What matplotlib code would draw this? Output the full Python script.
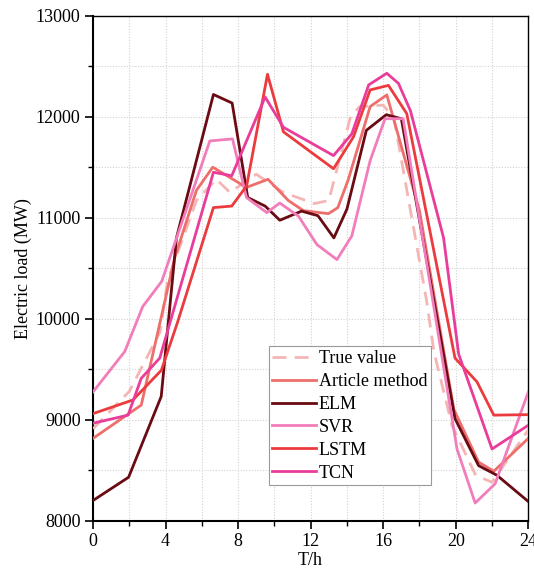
import matplotlib
matplotlib.use("Agg")
import matplotlib.pyplot as plt
from matplotlib.ticker import MultipleLocator

plt.rcParams['font.family'] = ['Liberation Serif', 'DejaVu Serif']
plt.rcParams['mathtext.fontset'] = 'stix'

# ---- data (hour, MW) ----
true_x = [0, 2.0, 3.7, 4.1, 5.7, 6.8, 7.55, 9.0, 10.5, 12.2, 13.0, 14.2, 14.7, 16.0, 16.6, 18.4, 18.8, 19.8, 21.1, 22.0, 24]
true_y = [8910, 9280, 9870, 10370, 11170, 11380, 11250, 11430, 11250, 11140, 11170, 12000, 12100, 12115, 11980, 10170, 9670, 8940, 8450, 8380, 8900]

article_x = [0, 2.66, 4.5, 5.7, 6.6, 8.46, 9.65, 10.77, 11.6, 12.98, 13.5, 14.08, 15.28, 16.2, 18.0, 19.9, 21.26, 22.1, 24]
article_y = [8815, 9145, 10600, 11270, 11500, 11300, 11380, 11170, 11070, 11040, 11100, 11380, 12100, 12216, 11070, 9100, 8580, 8490, 8815]

elm_x = [0, 1.96, 3.76, 4.6, 6.64, 7.67, 8.53, 9.49, 10.3, 11.5, 12.4, 13.28, 14.0, 15.07, 16.17, 17.0, 19.96, 21.26, 22.27, 24]
elm_y = [8200, 8430, 9230, 10800, 12220, 12135, 11200, 11115, 10975, 11065, 11020, 10800, 11085, 11865, 12020, 11980, 9010, 8545, 8450, 8190]

svr_x = [0, 1.75, 2.74, 3.79, 6.44, 7.69, 8.46, 9.58, 10.3, 11.33, 12.34, 13.45, 14.27, 15.28, 16.1, 17.1, 20.07, 21.07, 22.17, 24]
svr_y = [9275, 9675, 10120, 10370, 11760, 11780, 11200, 11050, 11145, 11015, 10735, 10585, 10820, 11565, 11980, 11980, 8710, 8175, 8365, 9275]

lstm_x = [0, 2.2, 3.77, 4.67, 6.64, 7.65, 8.47, 9.62, 10.5, 13.26, 14.36, 15.28, 16.29, 17.3, 19.96, 21.17, 22.1, 24]
lstm_y = [9060, 9195, 9490, 9970, 11100, 11115, 11315, 12420, 11850, 11485, 11800, 12265, 12310, 12030, 9610, 9375, 9045, 9050]

tcn_x = [0, 1.93, 2.66, 3.68, 6.64, 7.65, 9.49, 10.5, 13.26, 14.27, 15.2, 16.2, 16.84, 17.5, 19.33, 20.16, 22.0, 24]
tcn_y = [8965, 9045, 9410, 9610, 11450, 11415, 12195, 11895, 11615, 11830, 12315, 12430, 12330, 12060, 10800, 9650, 8710, 8945]

labels = ["True value", "Article method", "ELM", "SVR", "LSTM", "TCN"]
colors = ["#F4B5B5", "#EE6E6C", "#6A0A12", "#F27DBB", "#EC3B3E", "#EA3C9A"]

fig = plt.figure(figsize=(5.34, 5.71), dpi=100)
ax = fig.add_axes([0.1742, 0.0881, 0.8151, 0.8844])

lw = 2.0
ax.plot(true_x, true_y, color=colors[0], lw=lw, dashes=(5, 3), label=labels[0], zorder=3)
ax.plot(article_x, article_y, color=colors[1], lw=lw, label=labels[1], zorder=3)
ax.plot(elm_x, elm_y, color=colors[2], lw=lw, label=labels[2], zorder=3)
ax.plot(svr_x, svr_y, color=colors[3], lw=lw, label=labels[3], zorder=3)
ax.plot(lstm_x, lstm_y, color=colors[4], lw=lw, label=labels[4], zorder=3)
ax.plot(tcn_x, tcn_y, color=colors[5], lw=lw, label=labels[5], zorder=3)

ax.set_xlim(0, 24)
ax.set_ylim(8000, 13000)
ax.xaxis.set_major_locator(MultipleLocator(4))
ax.xaxis.set_minor_locator(MultipleLocator(2))
ax.yaxis.set_major_locator(MultipleLocator(1000))
ax.yaxis.set_minor_locator(MultipleLocator(500))

ax.grid(True, which='both', color='#D2D2D2', linestyle=(0, (1, 1.5)), linewidth=0.8, zorder=0)
ax.set_axisbelow(True)

ax.tick_params(axis='both', which='major', direction='out', length=6, width=1.2, labelsize=13, pad=3)
ax.tick_params(axis='both', which='minor', direction='out', length=3.5, width=1.0)
ax.tick_params(top=False, right=False, which='both')

for side in ['left', 'bottom']:
    ax.spines[side].set_linewidth(1.5)
for side in ['top', 'right']:
    ax.spines[side].set_linewidth(1.0)

ax.set_xlabel("T/h", fontsize=13, labelpad=1)
ax.set_ylabel("Electric load (MW)", fontsize=13, labelpad=3)

leg = ax.legend(loc='lower left', bbox_to_anchor=(0.404, 0.07), fontsize=13,
                frameon=True, fancybox=False, framealpha=1, edgecolor='#9A9A9A',
                handlelength=2.4, handletextpad=0.15, labelspacing=0.33,
                borderpad=0.2, borderaxespad=0)
leg.get_frame().set_linewidth(0.8)

fig.savefig("out.png", dpi=100)
